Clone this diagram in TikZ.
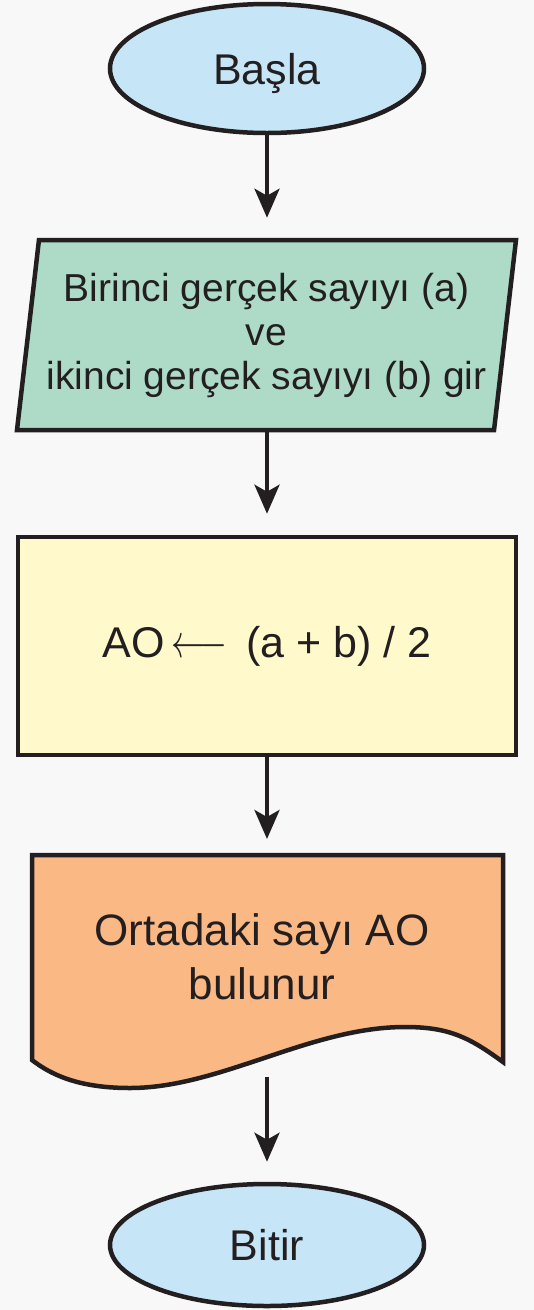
\RequirePackage{fix-cm}
\documentclass[tikz,border=0pt]{standalone}
\usepackage{fontspec}
\setmainfont{Liberation Sans}
\usepackage{graphicx}
\usetikzlibrary{shapes.geometric,arrows.meta}

\definecolor{inkline}{HTML}{231F20}
\definecolor{termblue}{HTML}{C6E6F7}
\definecolor{inputgreen}{HTML}{AEDBC8}
\definecolor{procyellow}{HTML}{FFF9CC}
\definecolor{outorange}{HTML}{F9B884}
\definecolor{bggray}{HTML}{F8F8F8}

\tikzset{
    terminal/.style={ellipse, draw=inkline, line width=4.5pt, fill=termblue, text=inkline,
        minimum width=314pt, inner sep=0pt, text depth=0pt, font=\fontsize{43}{50}\selectfont},
    inputbox/.style={trapezium, trapezium left angle=80, trapezium right angle=100,
        trapezium stretches body, draw=inkline, line width=4.5pt, fill=inputgreen, text=inkline,
        minimum width=499pt, minimum height=190pt, inner sep=0pt, align=center,
        font=\fontsize{39}{44}\selectfont},
    procbox/.style={rectangle, draw=inkline, line width=4.5pt, fill=procyellow, text=inkline,
        minimum width=498pt, minimum height=218pt, font=\fontsize{43}{50}\selectfont},
    outtext/.style={text=inkline, align=center, font=\fontsize{44}{54}\selectfont},
    flow/.style={draw=inkline, line width=4pt, -{Stealth[length=29pt, width=25pt, inset=7pt]}}
}

\begin{document}
\begin{tikzpicture}[x=1pt, y=-1pt]

    \fill[bggray] (0,0) rectangle (534,1310);
    \useasboundingbox (0,0) rectangle (534,1310);

    % -------------------------------
    % Basla
    % -------------------------------
    \node[terminal, minimum height=129pt] (start) at (267,68.5) {Başla};

    % -------------------------------
    % girdi
    % -------------------------------
    \node[inputbox] (in) at (266.5,335)
        {Birinci gerçek sayıyı (a)\\ve\\ikinci gerçek sayıyı (b) gir};

    % -------------------------------
    % islem
    % -------------------------------
    \node[procbox] (proc) at (267,646)
        {AO\,\scalebox{0.8}[1.1]{$\longleftarrow$}\, (a + b) / 2};

    % -------------------------------
    % cikti (belge)
    % -------------------------------
    \draw[draw=inkline, line width=4.5pt, fill=outorange]
        (32,855) -- (503,855) -- (503,1062)
        .. controls (470,1038) and (450,1027) .. (405,1027)
        .. controls (310,1027) and (220,1088) .. (130,1088)
        .. controls (85,1088) and (55,1078) .. (32,1060) -- cycle;
    \node[outtext] (out) at (262,957) {Ortadaki sayı AO\\bulunur};
    \coordinate (doctop) at (267,855);
    \coordinate (docbot) at (267,1077);

    % -------------------------------
    % Bitir
    % -------------------------------
    \node[terminal, minimum height=122pt] (stop) at (267,1245) {Bitir};

    % oklar
    \draw[flow, shorten >=20pt] (start.south) -- (start.south |- in.north);
    \draw[flow, shorten >=21pt] (proc.north |- in.south) -- (proc.north);
    \draw[flow, shorten >=16pt] (proc.south) -- (doctop);
    \draw[flow, shorten >=20pt] (docbot) -- (stop.north);

\end{tikzpicture}
\end{document}
